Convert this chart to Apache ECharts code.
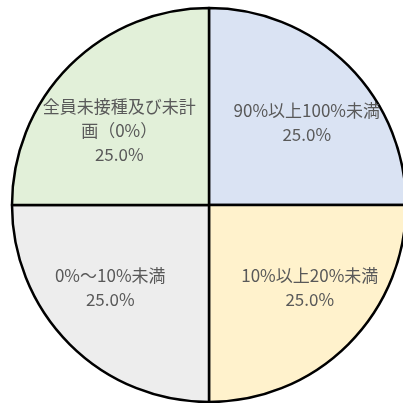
<!DOCTYPE html>
<html>
<head>
<meta charset="utf-8">
<script src="https://cdn.jsdelivr.net/npm/echarts@6/dist/echarts.min.js"></script>
<style>
  html, body { margin: 0; padding: 0; background: #fff; }
  #main { width: 403px; height: 403px; }
</style>
</head>
<body>
<div id="main"></div>
<script>
// 区分（12時から時計回り）
var categories = ["90%以上100%未満", "10%以上20%未満", "0%～10%未満", "全員未接種及び未計画（0%）"];
var values = [25, 25, 25, 25];
var sliceColors = ["#DAE3F3", "#FFF2CC", "#EDEDED", "#E2F0D9"];
// ラベルのずらし量
var labelShift = [[26, -11], [29, 11], [-27, 11], [-18, -3]];

var data = [];
for (var i = 0; i < categories.length; i++) {
  data.push({ name: categories[i], value: values[i], itemStyle: { color: sliceColors[i] } });
}

var myChart = echarts.init(document.getElementById("main"));
var option = {
  animation: false,
  series: [
    {
      type: "pie",
      center: [209, 205],
      radius: 197,
      startAngle: 90,
      clockwise: true,
      itemStyle: { borderColor: "#000", borderWidth: 2.5 },
      label: {
        position: "inside",
        color: "#595959",
        fontSize: 17,
        fontFamily: "Noto Sans CJK JP",
        lineHeight: 24,
        width: 160,
        overflow: "break",
        formatter: function (p) {
          return p.name + "\n" + p.percent.toFixed(1) + "%";
        }
      },
      labelLayout: function (p) {
        var s = labelShift[p.dataIndex];
        return { dx: s[0], dy: s[1] };
      },
      emphasis: { disabled: true },
      data: data
    }
  ]
};
myChart.setOption(option);
</script>
</body>
</html>
